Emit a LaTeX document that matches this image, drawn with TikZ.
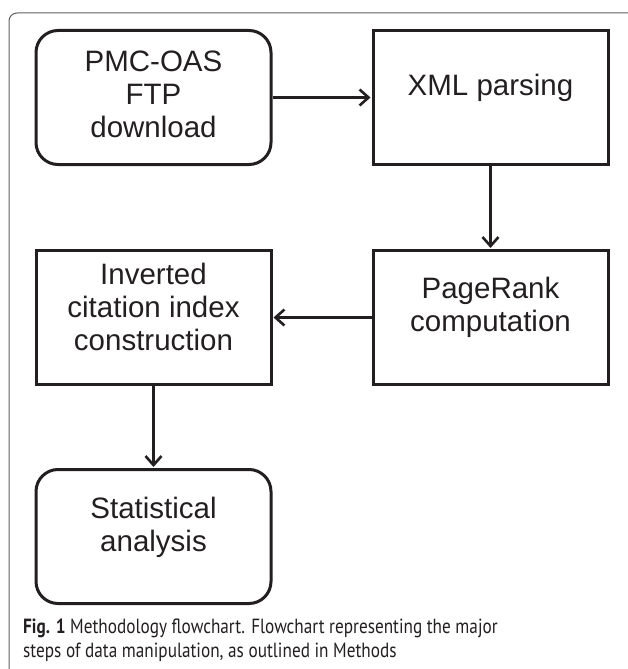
\documentclass[tikz,border=0pt]{standalone}
\usepackage{fontspec}
\setmainfont{Liberation Sans}
\newfontfamily\capfont[FakeStretch=0.84]{PT Sans}
\usetikzlibrary{positioning,arrows.meta}
\definecolor{ink}{RGB}{35,31,32}
\definecolor{framecol}{RGB}{95,95,95}
\tikzset{
  stepbox/.style={draw=ink,line width=3pt,minimum width=235pt,minimum height=134pt,
    inner sep=0pt,font=\fontsize{29.5}{33}\selectfont,text=ink},
  termbox/.style={stepbox,rounded corners=22pt},
  flow/.style={draw=ink,line width=2.6pt,-{Straight Barb[length=9pt,width=16pt]},shorten >=1pt},
}
\newcommand{\boxtext}[2][8pt]{\raisebox{#1}[\height][\depth]{\begin{tabular}{@{}c@{}}#2\end{tabular}}}

\begin{document}
\begin{tikzpicture}[x=1pt,y=-1pt]
  \useasboundingbox (0,0) rectangle (627,669);
  % outer frame, cut off at right and bottom
  \draw[framecol,line width=1pt,rounded corners=8pt] (9,672) -- (9,13) -- (628,13);
  % flow steps
  \node[termbox] (dl) at (153.5,97.5) {\boxtext[0pt]{PMC-OAS\\FTP\\download}};
  \node[stepbox,right=99pt of dl] (xml) {\boxtext[9pt]{XML parsing}};
  \node[stepbox,below=83pt of xml] (rank) {\boxtext[9pt]{PageRank\\computation}};
  \node[stepbox,left=99pt of rank] (inv) {\boxtext[7pt]{Inverted\\citation index\\construction}};
  \node[termbox,below=82pt of inv] (stats) {\boxtext{Statistical\\analysis}};
  \draw[flow] (dl) -- (xml);
  \draw[flow] (xml) -- (rank);
  \draw[flow] (rank) -- (inv);
  \draw[flow] (inv) -- (stats);
  % caption
  \node[anchor=north west,align=left,inner sep=0pt,text=ink,
        font=\capfont\fontsize{20.5}{23.5}\selectfont] (cap) at (23,619)
    {\textbf{Fig. 1} Methodology flowchart. Flowchart representing the major\\
     steps of data manipulation, as outlined in Methods};
\end{tikzpicture}
\end{document}
